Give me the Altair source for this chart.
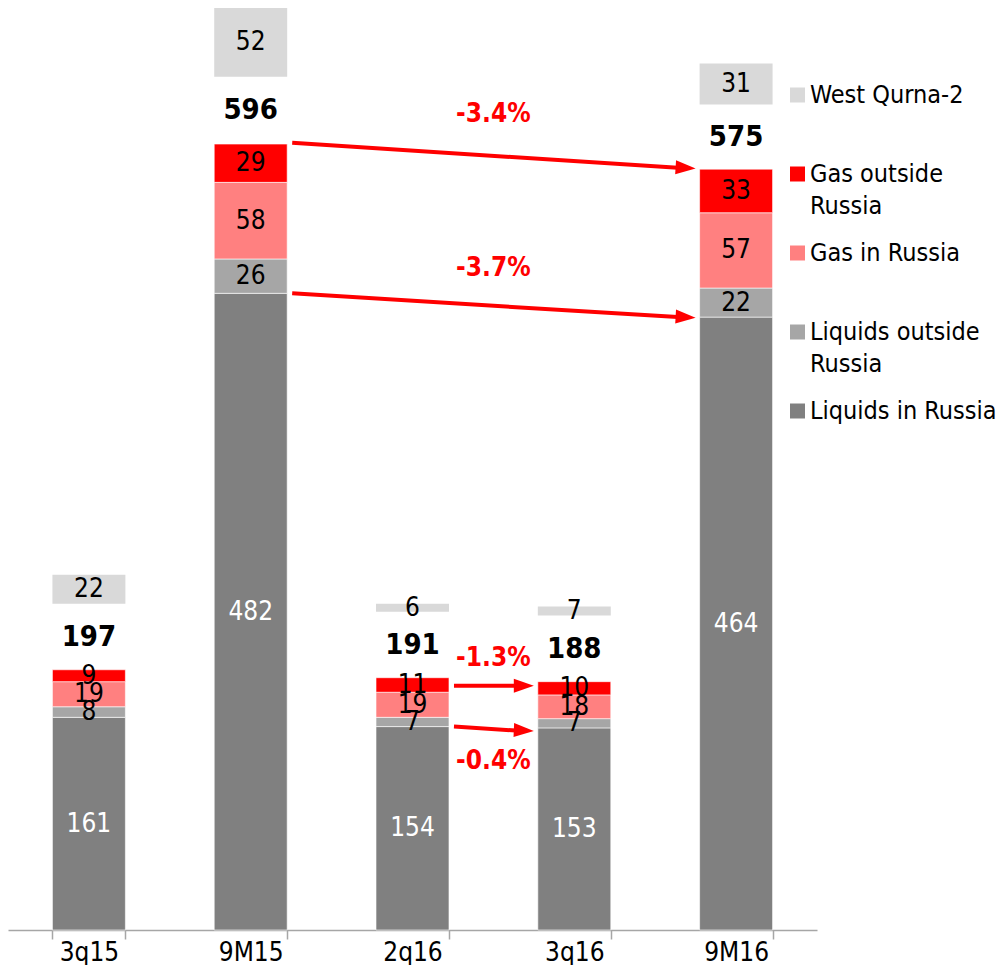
import math
import altair as alt
import pandas as pd

# ---------------- data ----------------
periods = ["3q15", "9M15", "2q16", "3q16", "9M16"]
liquids_russia = [161, 482, 154, 153, 464]
liquids_outside = [8, 26, 7, 7, 22]
gas_russia = [19, 58, 19, 18, 57]
gas_outside = [9, 29, 11, 10, 33]
west_qurna = [22, 52, 6, 7, 31]
totals = [197, 596, 191, 188, 575]

stack_series = ["Liquids in Russia", "Liquids outside Russia", "Gas in Russia", "Gas outside Russia"]
series_names = stack_series + ["West Qurna-2"]
series_colors = ["#808080", "#A6A6A6", "#FF8080", "#FF0000", "#D9D9D9"]

legend_order = ["West Qurna-2", "Gas outside Russia", "Gas in Russia", "Liquids outside Russia", "Liquids in Russia"]
legend_labels = ["West Qurna-2", "Gas outside\nRussia", "Gas in Russia", "Liquids outside\nRussia", "Liquids in Russia"]

arrow_from = ["9M15", "9M15", "2q16", "2q16"]
arrow_to = ["9M16", "9M16", "3q16", "3q16"]
arrow_y_from = [596, 482, 185, 154]
arrow_y_to = [577, 464, 185, 151]
change_labels = ["-3.4%", "-3.7%", "-1.3%", "-0.4%"]
change_label_y = [618, 501, 206, 128]

# ---------------- layout constants ----------------
FONT = "DejaVu Sans Condensed, DejaVu Sans"
W, H = 809, 922
Y_MAX = 698
GAP = 50
P_INNER = 0.549
STEP = W / len(periods)
BANDW = STEP * (1 - P_INNER)
PPU = H / Y_MAX

# ---------------- tables ----------------
rows = []
for i, p in enumerate(periods):
    for order, vals in enumerate([liquids_russia, liquids_outside, gas_russia, gas_outside]):
        rows.append({"period": p, "series": stack_series[order], "value": vals[i], "order": order})
stack_df = pd.DataFrame(rows)

wq_df = pd.DataFrame({"period": periods, "wq": west_qurna, "total": totals})

angles = []
for f, t, y0, y1 in zip(arrow_from, arrow_to, arrow_y_from, arrow_y_to):
    dxp = (periods.index(t) - periods.index(f)) * STEP - BANDW
    angles.append(math.degrees(math.atan2((y0 - y1) * PPU, dxp)))
arrow_df = pd.DataFrame({
    "from": arrow_from, "to": arrow_to, "y_from": arrow_y_from, "y_to": arrow_y_to,
    "label": change_labels, "label_y": change_label_y, "angle": angles,
    "anchor": ["3q16"] * len(arrow_from),
})

legend_df = pd.DataFrame({"series": legend_order, "label": legend_labels})

# ---------------- scales ----------------
xscale = alt.Scale(domain=periods, paddingInner=P_INNER, paddingOuter=P_INNER / 2)
yscale = alt.Scale(domain=[0, Y_MAX], nice=False, zero=True)
cscale = alt.Scale(domain=series_names, range=series_colors)

x_axis = alt.Axis(title=None, labelAngle=0, tickBand="extent", tickSize=9,
                  domainColor="#A6A6A6", tickColor="#A6A6A6", domainWidth=1.5, tickWidth=1.5,
                  labelFontSize=26, labelFont=FONT, labelColor="#000000", labelPadding=0,
                  grid=False)


def xf(field, **kw):
    return alt.X(field, scale=xscale, axis=x_axis, title=None, **kw)


def yf(field):
    return alt.Y(field, scale=yscale, axis=None)


base_stack = alt.Chart(stack_df).transform_stack(
    stack="value", groupby=["period"], sort=[alt.SortField("order", order="ascending")], as_=["y0", "y1"]
).transform_calculate(mid="(datum.y0 + datum.y1) / 2")

bars = base_stack.mark_bar(stroke="#FFFFFF", strokeWidth=0.6).encode(
    x=xf("period:N"),
    y=yf("y0:Q"),
    y2="y1:Q",
    color=alt.Color("series:N", scale=cscale, legend=None),
)

seg_labels = base_stack.mark_text(baseline="middle", fontSize=26, font=FONT).encode(
    x=xf("period:N"),
    y=yf("mid:Q"),
    text="value:Q",
    color=alt.condition(alt.datum.series == "Liquids in Russia", alt.value("#FFFFFF"), alt.value("#000000")),
)

wq_base = alt.Chart(wq_df).transform_calculate(
    wq0=f"datum.total + {GAP}",
    wq1=f"datum.total + {GAP} + datum.wq",
    wqmid=f"datum.total + {GAP} + datum.wq / 2",
    tpos=f"datum.total + {GAP} / 2",
    series="'West Qurna-2'",
)

wq_bars = wq_base.mark_bar().encode(
    x=xf("period:N"),
    y=yf("wq0:Q"),
    y2="wq1:Q",
    color=alt.Color("series:N", scale=cscale, legend=None),
)
wq_labels = wq_base.mark_text(baseline="middle", fontSize=26, font=FONT, color="#000000").encode(
    x=xf("period:N"),
    y=yf("wqmid:Q"),
    text="wq:Q",
)
total_labels = wq_base.mark_text(baseline="middle", fontSize=29, fontWeight="bold", font=FONT, color="#000000").encode(
    x=xf("period:N"),
    y=yf("tpos:Q"),
    text="total:Q",
)

HEAD_HALF = 10
rules = alt.Chart(arrow_df).mark_rule(color="#FF0000", strokeWidth=4, xOffset=5, x2Offset=-2 * HEAD_HALF - 2).encode(
    x=xf("from:N", bandPosition=1),
    x2=alt.X2("to:N", bandPosition=0),
    y=yf("y_from:Q"),
    y2="y_to:Q",
)
heads = alt.Chart(arrow_df).mark_point(
    shape="M-1,-0.7L1,0L-1,0.7Z", filled=True, color="#FF0000", opacity=1,
    size=(2 * HEAD_HALF) ** 2, xOffset=-HEAD_HALF - 4, strokeWidth=0,
).encode(
    x=xf("to:N", bandPosition=0),
    y=yf("y_to:Q"),
    angle=alt.Angle("angle:Q", scale=None),
)
pct_labels = alt.Chart(arrow_df).mark_text(
    baseline="middle", fontSize=26, fontWeight="bold", font=FONT, color="#FF0000",
    dx=-(STEP - BANDW) / 2,
).encode(
    x=xf("anchor:N", bandPosition=0),
    y=yf("label_y:Q"),
    text="label:N",
)

main = alt.layer(bars, seg_labels, wq_bars, wq_labels, total_labels, rules, heads, pct_labels)

leg_y = alt.Scale(type="point", domain=legend_order, range=[87, 403], padding=0)
leg_sq = alt.Chart(legend_df).mark_square(size=225, filled=True, opacity=1).encode(
    x=alt.value(789.5),
    y=alt.Y("series:N", scale=leg_y, axis=None),
    color=alt.Color("series:N", scale=cscale, legend=None),
)
leg_tx = alt.Chart(legend_df).mark_text(
    align="left", baseline="middle", fontSize=25, font=FONT, lineBreak="\n", lineHeight=32, color="#000000",
).encode(
    x=alt.value(802),
    y=alt.Y("series:N", scale=leg_y, axis=None),
    text="label:N",
)
legend = alt.layer(leg_sq, leg_tx)

chart = alt.layer(main, legend).resolve_scale(y="independent").properties(
    width=W, height=H, padding=0
).configure_view(stroke=None)

chart.save("out.html", embed_options={"renderer": "svg", "actions": False})
